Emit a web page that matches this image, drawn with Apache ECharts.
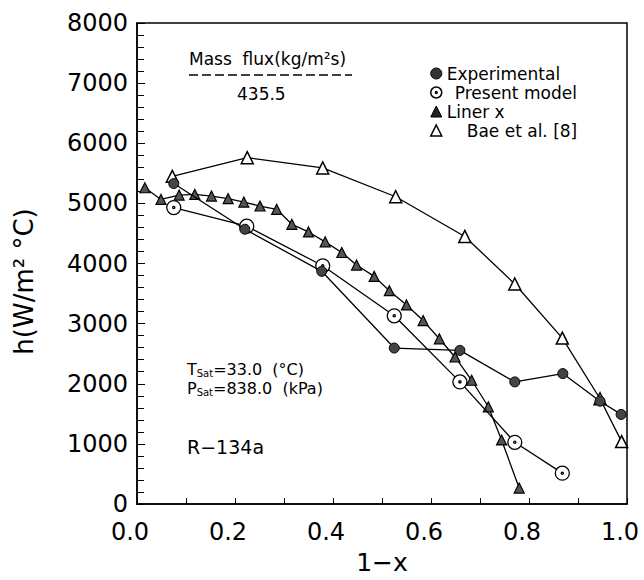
<!DOCTYPE html>
<html>
<head>
<meta charset="utf-8">
<script src="https://cdn.jsdelivr.net/npm/echarts@6/dist/echarts.min.js"></script>
<style>html,body{margin:0;padding:0;background:#fff}#c{width:644px;height:580px}</style>
</head>
<body>
<div id="c"></div>
<script>
var experimental = [[0.075,5330],[0.220,4570],[0.377,3870],[0.525,2594],[0.659,2555],[0.771,2031],[0.869,2169],[0.945,1710],[0.988,1490]];
var presentModel = [[0.075,4930],[0.224,4620],[0.379,3962],[0.525,3130],[0.659,2031],[0.771,1026],[0.868,513]];
var linerX = [[0.016,5260],[0.049,5066],[0.086,5138],[0.118,5149],[0.152,5121],[0.186,5078],[0.218,5022],[0.251,4956],[0.285,4901],[0.316,4652],[0.350,4525],[0.384,4360],[0.418,4183],[0.448,3974],[0.484,3786],[0.515,3548],[0.550,3311],[0.584,3051],[0.617,2748],[0.649,2445],[0.683,2058],[0.717,1617],[0.744,1065],[0.780,265]];
var bae = [[0.072,5450],[0.225,5760],[0.379,5590],[0.528,5110],[0.669,4450],[0.771,3659],[0.868,2760],[0.945,1750],[0.989,1038]];
var seriesNames = ['Experimental','Present model','Liner x','Bae et al. [8]'];
var xTicks = {min:0, max:1, interval:0.2};
var yTicks = {min:0, max:8000, interval:1000};

var FONT = 'DejaVu Sans';
var dotCircle = 'path://M0,-10A10,10 0 1 1 0,10A10,10 0 1 1 0,-10ZM0,-1.6A1.6,1.6 0 1 1 0,1.6A1.6,1.6 0 1 1 0,-1.6Z';
var chart = echarts.init(document.getElementById('c'), null, {renderer:'svg'});
var lineStyle = {color:'#000', width:1.3};
chart.setOption({
  animation:false,
  backgroundColor:'#fff',
  textStyle:{fontFamily:FONT, color:'#000'},
  grid:{left:137, right:17, top:23, bottom:74, show:true, borderColor:'#000', borderWidth:1.5, backgroundColor:'transparent'},
  xAxis:{type:'value', min:xTicks.min, max:xTicks.max, interval:xTicks.interval,
    name:'1\u2212x', nameLocation:'middle', nameGap:46,
    nameTextStyle:{fontSize:25, fontFamily:FONT, color:'#000'},
    axisLine:{lineStyle:{color:'#000', width:1.5}},
    axisTick:{inside:true, length:6, lineStyle:{color:'#000'}},
    minorTick:{show:true, splitNumber:2, length:6, lineStyle:{color:'#000'}},
    splitLine:{show:false},
    axisLabel:{fontSize:24, fontFamily:FONT, color:'#000', margin:16, padding:[0,14,0,0],
      formatter:function(v){return v.toFixed(1);}}
  },
  yAxis:{type:'value', min:yTicks.min, max:yTicks.max, interval:yTicks.interval,
    name:'h(W/m\u00B2 \u00B0C)', nameLocation:'middle', nameGap:100,
    nameTextStyle:{fontSize:26, fontFamily:FONT, color:'#000', padding:[0,0,0,-36]},
    axisLine:{lineStyle:{color:'#000', width:1.5}},
    axisTick:{inside:true, length:8, lineStyle:{color:'#000'}},
    minorTick:{show:true, splitNumber:5, length:7, lineStyle:{color:'#000'}},
    splitLine:{show:false},
    axisLabel:{fontSize:24, fontFamily:FONT, color:'#000', margin:9,
      formatter:function(v){return String(v);}}
  },
  legend:{orient:'vertical', left:425, top:60, itemGap:2, itemWidth:11, itemHeight:11,
    textStyle:{fontSize:17, fontFamily:FONT, color:'#000', lineHeight:17},
    data:[
      {name:seriesNames[0], icon:'circle', itemStyle:{color:'#333', borderColor:'#000', borderWidth:1}},
      {name:seriesNames[1], icon:dotCircle, itemStyle:{color:'#fff', borderColor:'#000', borderWidth:1.5}, textStyle:{padding:[0,0,0,8]}},
      {name:seriesNames[2], icon:'triangle', itemStyle:{color:'#222', borderColor:'#000', borderWidth:1}},
      {name:seriesNames[3], icon:'triangle', itemStyle:{color:'#fff', borderColor:'#000', borderWidth:1.5}, textStyle:{padding:[0,0,0,20]}}
    ]
  },
  graphic:[
    {type:'text', left:189, top:50, style:{text:'Mass  flux(kg/m\u00B2s)', font:'17px "DejaVu Sans"', fill:'#000'}},
    {type:'line', shape:{x1:189, y1:75, x2:352, y2:75}, style:{stroke:'#000', lineWidth:1.5, lineDash:[9,4]}},
    {type:'text', left:237, top:85, style:{text:'435.5', font:'17px "DejaVu Sans"', fill:'#000'}},
    {type:'text', left:187, top:361, style:{text:'T{s|Sat}=33.0  (\u00B0C)', font:'16px "DejaVu Sans"', fill:'#000',
      rich:{s:{fontSize:10, fontFamily:FONT, padding:[9,0,0,0]}}}},
    {type:'text', left:187, top:380, style:{text:'P{s|Sat}=838.0  (kPa)', font:'16px "DejaVu Sans"', fill:'#000',
      rich:{s:{fontSize:10, fontFamily:FONT, padding:[9,0,0,0]}}}},
    {type:'text', left:187, top:437, style:{text:'R\u2212134a', font:'19px "DejaVu Sans"', fill:'#000'}}
  ],
  series:[
    {name:seriesNames[3], type:'line', data:bae, symbol:'triangle', symbolSize:12, lineStyle:lineStyle,
      itemStyle:{color:'#fff', borderColor:'#000', borderWidth:1.5}, z:2},
    {name:seriesNames[2], type:'line', data:linerX, symbol:'triangle', symbolSize:10, lineStyle:lineStyle,
      itemStyle:{color:'#555', borderColor:'#000', borderWidth:1.2}, z:3},
    {name:seriesNames[1], type:'line', data:presentModel, symbol:dotCircle, symbolSize:14, lineStyle:lineStyle,
      itemStyle:{color:'#fff', borderColor:'#000', borderWidth:1.3}, z:4},
    {name:seriesNames[0], type:'line', data:experimental, symbol:'circle', symbolSize:10, lineStyle:lineStyle,
      itemStyle:{color:'#444', borderColor:'#000', borderWidth:1}, z:5}
  ]
});
</script>
</body>
</html>
